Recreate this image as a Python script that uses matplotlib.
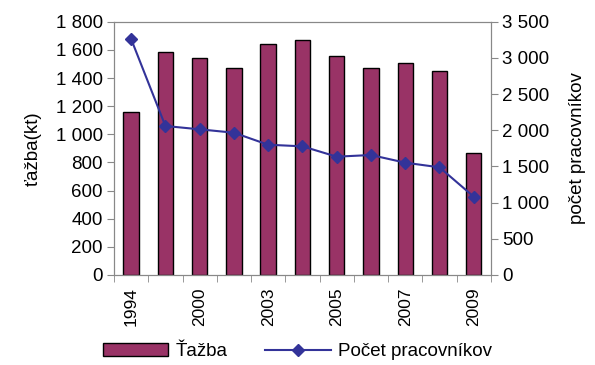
import matplotlib
matplotlib.use("Agg")
import matplotlib.pyplot as plt
import numpy as np
from matplotlib.ticker import FuncFormatter, MultipleLocator

plt.rcParams['font.family'] = ['Liberation Sans', 'DejaVu Sans']

# data
years = ["1994", "1999", "2000", "2002", "2003", "2004", "2005", "2006", "2007", "2008", "2009"]
tazba = [1160, 1583, 1544, 1471, 1644, 1668, 1556, 1471, 1508, 1448, 865]
pracovnici = [3261, 2059, 2013, 1966, 1800, 1778, 1635, 1658, 1552, 1488, 1082]

bar_color = '#993366'
line_color = '#333399'
fs = 13.5

def space_thousands(v, pos):
    return f"{int(v):,}".replace(",", " ")

fig = plt.figure(figsize=(5.95, 3.65), dpi=100)
ax = fig.add_axes([0.1916, 0.2466, 0.6334, 0.6939])
x = np.arange(len(years))

bars = ax.bar(x, tazba, width=0.45, color=bar_color, edgecolor='black', linewidth=1, label='Ťažba', zorder=2)
ax.set_ylim(0, 1800)
ax.set_xlim(-0.5, len(years) - 0.5)
ax.yaxis.set_major_locator(MultipleLocator(200))
ax.yaxis.set_major_formatter(FuncFormatter(space_thousands))
ax.set_ylabel('ťažba(kt)', fontsize=fs, labelpad=10)

# x ticks: labels on every other category, tick marks between categories
ax.set_xticks(x[::2])
ax.set_xticklabels(years[::2], rotation=90, fontsize=12.5)
ax.tick_params(axis='x', which='major', length=0, pad=9)
ax.set_xticks(np.arange(-0.5, len(years)), minor=True)
ax.tick_params(axis='x', which='minor', length=5, color='#888888')
ax.tick_params(axis='y', labelsize=fs, length=5, color='#888888', pad=3)

for s in ['top', 'right', 'left', 'bottom']:
    ax.spines[s].set_color('#888888')

ax2 = ax.twinx()
line, = ax2.plot(x, pracovnici, color=line_color, linewidth=1.5, marker='D', markersize=6.5,
                 label='Počet pracovníkov', zorder=3)
ax2.set_ylim(0, 3500)
ax2.yaxis.set_major_locator(MultipleLocator(500))
ax2.yaxis.set_major_formatter(FuncFormatter(space_thousands))
ax2.tick_params(axis='y', labelsize=fs, length=5, color='#888888', pad=3)
ax2.set_ylabel('počet pracovníkov', fontsize=fs, labelpad=14)
for s in ['top', 'right', 'left', 'bottom']:
    ax2.spines[s].set_color('#888888')

fig.legend([bars, line], ['Ťažba', 'Počet pracovníkov'], loc='center', bbox_to_anchor=(0.5, 0.036),
           ncol=2, frameon=False, fontsize=fs, handlelength=3.5, columnspacing=2.0, handletextpad=0.4)

fig.savefig('out.png', dpi=100)
